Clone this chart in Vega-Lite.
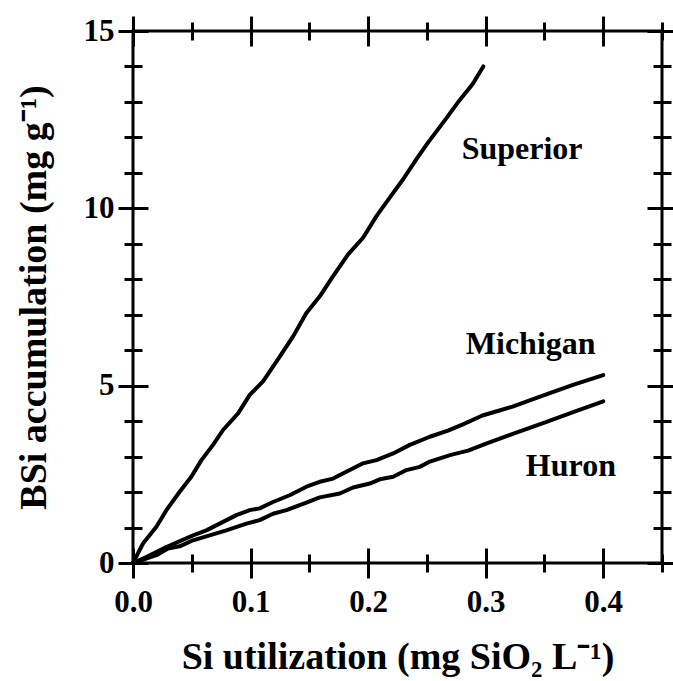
{
  "$schema": "https://vega.github.io/schema/vega-lite/v6.json",
  "width": 529,
  "height": 532,
  "autosize": {"type": "none"},
  "padding": {"left": 133, "top": 31, "right": 11, "bottom": 118},
  "background": "white",
  "config": {
    "view": {"stroke": "black", "strokeWidth": 3},
    "axis": {
      "tickColor": "black", "tickWidth": 3, "labelColor": "black", "titleColor": "black",
      "labelFont": "Liberation Serif", "titleFont": "Liberation Serif",
      "labelFontWeight": "bold", "titleFontWeight": "bold",
      "grid": false, "domain": false, "labelFlush": false, "labelOverlap": false
    }
  },
  "datasets": {
    "curves": [
      {"lake": "Superior", "u": 0, "b": 0},
      {"lake": "Superior", "u": 0.0085, "b": 0.55},
      {"lake": "Superior", "u": 0.0199, "b": 1.02},
      {"lake": "Superior", "u": 0.0284, "b": 1.49},
      {"lake": "Superior", "u": 0.0397, "b": 2.01},
      {"lake": "Superior", "u": 0.0496, "b": 2.43},
      {"lake": "Superior", "u": 0.0582, "b": 2.9},
      {"lake": "Superior", "u": 0.0681, "b": 3.33},
      {"lake": "Superior", "u": 0.0766, "b": 3.75},
      {"lake": "Superior", "u": 0.0894, "b": 4.22},
      {"lake": "Superior", "u": 0.0993, "b": 4.74},
      {"lake": "Superior", "u": 0.1106, "b": 5.12},
      {"lake": "Superior", "u": 0.122, "b": 5.68},
      {"lake": "Superior", "u": 0.1362, "b": 6.39},
      {"lake": "Superior", "u": 0.1475, "b": 7.05},
      {"lake": "Superior", "u": 0.1589, "b": 7.52},
      {"lake": "Superior", "u": 0.1702, "b": 8.09},
      {"lake": "Superior", "u": 0.183, "b": 8.7},
      {"lake": "Superior", "u": 0.1957, "b": 9.17},
      {"lake": "Superior", "u": 0.2071, "b": 9.78},
      {"lake": "Superior", "u": 0.2184, "b": 10.3},
      {"lake": "Superior", "u": 0.2298, "b": 10.82},
      {"lake": "Superior", "u": 0.2411, "b": 11.39},
      {"lake": "Superior", "u": 0.2511, "b": 11.86},
      {"lake": "Superior", "u": 0.2668, "b": 12.55},
      {"lake": "Superior", "u": 0.2778, "b": 13.05},
      {"lake": "Superior", "u": 0.2888, "b": 13.5},
      {"lake": "Superior", "u": 0.298, "b": 14.0},
      {"lake": "Michigan", "u": 0, "b": 0},
      {"lake": "Michigan", "u": 0.0113, "b": 0.17},
      {"lake": "Michigan", "u": 0.0284, "b": 0.45},
      {"lake": "Michigan", "u": 0.0511, "b": 0.78},
      {"lake": "Michigan", "u": 0.0624, "b": 0.92},
      {"lake": "Michigan", "u": 0.0766, "b": 1.16},
      {"lake": "Michigan", "u": 0.0879, "b": 1.35},
      {"lake": "Michigan", "u": 0.0993, "b": 1.49},
      {"lake": "Michigan", "u": 0.1078, "b": 1.54},
      {"lake": "Michigan", "u": 0.1191, "b": 1.72},
      {"lake": "Michigan", "u": 0.1333, "b": 1.91},
      {"lake": "Michigan", "u": 0.1475, "b": 2.15},
      {"lake": "Michigan", "u": 0.1589, "b": 2.29},
      {"lake": "Michigan", "u": 0.1702, "b": 2.38},
      {"lake": "Michigan", "u": 0.1844, "b": 2.62},
      {"lake": "Michigan", "u": 0.1957, "b": 2.81},
      {"lake": "Michigan", "u": 0.2071, "b": 2.9},
      {"lake": "Michigan", "u": 0.2213, "b": 3.09},
      {"lake": "Michigan", "u": 0.2355, "b": 3.33},
      {"lake": "Michigan", "u": 0.2525, "b": 3.56},
      {"lake": "Michigan", "u": 0.2679, "b": 3.73},
      {"lake": "Michigan", "u": 0.2807, "b": 3.91},
      {"lake": "Michigan", "u": 0.2972, "b": 4.16},
      {"lake": "Michigan", "u": 0.3229, "b": 4.41},
      {"lake": "Michigan", "u": 0.3486, "b": 4.72},
      {"lake": "Michigan", "u": 0.3743, "b": 5.02},
      {"lake": "Michigan", "u": 0.4, "b": 5.3},
      {"lake": "Huron", "u": 0, "b": 0},
      {"lake": "Huron", "u": 0.0199, "b": 0.22},
      {"lake": "Huron", "u": 0.0298, "b": 0.41},
      {"lake": "Huron", "u": 0.0397, "b": 0.47},
      {"lake": "Huron", "u": 0.0511, "b": 0.64},
      {"lake": "Huron", "u": 0.0652, "b": 0.78},
      {"lake": "Huron", "u": 0.0794, "b": 0.92},
      {"lake": "Huron", "u": 0.0965, "b": 1.11},
      {"lake": "Huron", "u": 0.1078, "b": 1.21},
      {"lake": "Huron", "u": 0.1191, "b": 1.39},
      {"lake": "Huron", "u": 0.1305, "b": 1.49},
      {"lake": "Huron", "u": 0.1475, "b": 1.7},
      {"lake": "Huron", "u": 0.1589, "b": 1.85},
      {"lake": "Huron", "u": 0.1759, "b": 1.96},
      {"lake": "Huron", "u": 0.1872, "b": 2.13},
      {"lake": "Huron", "u": 0.2014, "b": 2.24},
      {"lake": "Huron", "u": 0.2099, "b": 2.36},
      {"lake": "Huron", "u": 0.2213, "b": 2.43},
      {"lake": "Huron", "u": 0.2326, "b": 2.62},
      {"lake": "Huron", "u": 0.244, "b": 2.71},
      {"lake": "Huron", "u": 0.2525, "b": 2.86},
      {"lake": "Huron", "u": 0.2704, "b": 3.05},
      {"lake": "Huron", "u": 0.2851, "b": 3.17},
      {"lake": "Huron", "u": 0.2998, "b": 3.36},
      {"lake": "Huron", "u": 0.3255, "b": 3.67},
      {"lake": "Huron", "u": 0.3512, "b": 3.97},
      {"lake": "Huron", "u": 0.3768, "b": 4.28},
      {"lake": "Huron", "u": 0.4, "b": 4.56}
    ],
    "labels": [
      {"label": "Superior", "u": 0.331, "b": 11.66},
      {"label": "Michigan", "u": 0.3383, "b": 6.18},
      {"label": "Huron", "u": 0.3725, "b": 2.74}
    ]
  },
  "layer": [
    {
      "data": {"name": "curves"},
      "mark": {"type": "line", "stroke": "black", "strokeWidth": 4, "strokeCap": "round", "strokeJoin": "round"},
      "encoding": {
        "x": {"field": "u", "type": "quantitative",
          "scale": {"domain": [0, 0.45], "nice": false, "zero": false},
          "axis": {"orient": "bottom", "values": [0, 0.1, 0.2, 0.3, 0.4], "format": ".1f", "offset": -15, "tickSize": 30,
            "labelFontSize": 31, "labelPadding": 9,
            "title": "Si utilization (mg SiO₂ L⁻¹)", "titleFontSize": 38, "titlePadding": 21}},
        "y": {"field": "b", "type": "quantitative",
          "scale": {"domain": [0, 15], "nice": false},
          "axis": {"orient": "left", "values": [0, 5, 10, 15], "format": "d", "offset": -15, "tickSize": 30,
            "labelFontSize": 31, "labelPadding": 4,
            "title": "BSi accumulation (mg g⁻¹)", "titleFontSize": 38, "titlePadding": 30}},
        "detail": {"field": "lake"}
      }
    },
    {
      "data": {"name": "curves"},
      "mark": {"type": "point", "opacity": 0},
      "encoding": {
        "x": {"field": "u", "type": "quantitative",
          "axis": {"orient": "bottom", "values": [0.05, 0.15, 0.25, 0.35, 0.45], "offset": -9, "tickSize": 18, "labels": false, "title": null}},
        "y": {"field": "b", "type": "quantitative",
          "axis": {"orient": "left", "values": [1, 2, 3, 4, 6, 7, 8, 9, 11, 12, 13, 14], "offset": -9, "tickSize": 18, "labels": false, "title": null}}
      }
    },
    {
      "data": {"name": "curves"},
      "mark": {"type": "point", "opacity": 0},
      "encoding": {
        "x": {"field": "u", "type": "quantitative",
          "axis": {"orient": "top", "values": [0, 0.1, 0.2, 0.3, 0.4], "offset": -15, "tickSize": 30, "labels": false, "title": null}},
        "y": {"field": "b", "type": "quantitative",
          "axis": {"orient": "right", "values": [0, 5, 10, 15], "offset": -15, "tickSize": 30, "labels": false, "title": null}}
      }
    },
    {
      "data": {"name": "curves"},
      "mark": {"type": "point", "opacity": 0},
      "encoding": {
        "x": {"field": "u", "type": "quantitative",
          "axis": {"orient": "top", "values": [0.05, 0.15, 0.25, 0.35, 0.45], "offset": -9, "tickSize": 18, "labels": false, "title": null}},
        "y": {"field": "b", "type": "quantitative",
          "axis": {"orient": "right", "values": [1, 2, 3, 4, 6, 7, 8, 9, 11, 12, 13, 14], "offset": -9, "tickSize": 18, "labels": false, "title": null}}
      }
    },
    {
      "data": {"name": "labels"},
      "mark": {"type": "text", "font": "Liberation Serif", "fontWeight": "bold", "fontSize": 32, "color": "black", "align": "center", "baseline": "middle"},
      "encoding": {
        "x": {"field": "u", "type": "quantitative", "axis": null},
        "y": {"field": "b", "type": "quantitative", "axis": null},
        "text": {"field": "label"}
      }
    }
  ],
  "resolve": {"axis": {"x": "independent", "y": "independent"}}
}
